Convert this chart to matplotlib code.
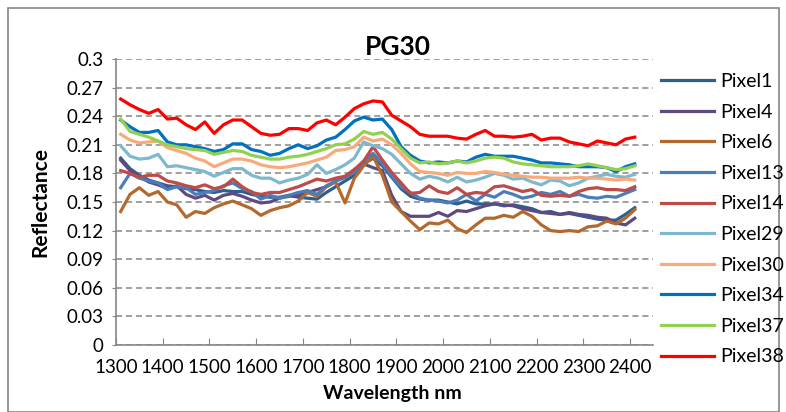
import matplotlib.pyplot as plt
import numpy as np
from matplotlib.patches import Rectangle

plt.rcParams['font.family'] = ['Lato', 'DejaVu Sans']

# wavelength grid (nm), read every 20 nm from the picture
wavelength = list(range(1310, 2411, 20))

pixel1 = [0.196, 0.185, 0.178, 0.173, 0.170, 0.167, 0.166, 0.164, 0.163, 0.161,
          0.160, 0.162, 0.161, 0.161, 0.158, 0.156, 0.155, 0.155, 0.157, 0.155,
          0.154, 0.153, 0.160, 0.166, 0.172, 0.178, 0.190, 0.196, 0.188, 0.176,
          0.164, 0.156, 0.153, 0.152, 0.152, 0.150, 0.148, 0.151, 0.148, 0.148,
          0.148, 0.146, 0.147, 0.145, 0.143, 0.139, 0.140, 0.137, 0.138, 0.136,
          0.134, 0.132, 0.131, 0.131, 0.137, 0.144]
pixel4 = [0.194, 0.183, 0.177, 0.171, 0.168, 0.164, 0.167, 0.158, 0.154, 0.157,
          0.152, 0.157, 0.159, 0.156, 0.152, 0.149, 0.150, 0.154, 0.156, 0.157,
          0.160, 0.163, 0.166, 0.172, 0.176, 0.184, 0.190, 0.186, 0.183, 0.157,
          0.140, 0.135, 0.135, 0.135, 0.139, 0.135, 0.141, 0.140, 0.143, 0.146,
          0.148, 0.147, 0.146, 0.143, 0.141, 0.139, 0.138, 0.137, 0.139, 0.137,
          0.136, 0.134, 0.133, 0.128, 0.126, 0.133]
pixel6 = [0.140, 0.158, 0.165, 0.157, 0.161, 0.150, 0.147, 0.134, 0.140, 0.138,
          0.144, 0.148, 0.151, 0.147, 0.143, 0.136, 0.141, 0.144, 0.146, 0.151,
          0.160, 0.156, 0.166, 0.171, 0.149, 0.175, 0.188, 0.198, 0.178, 0.150,
          0.140, 0.130, 0.121, 0.128, 0.127, 0.131, 0.122, 0.118, 0.126, 0.133,
          0.133, 0.136, 0.134, 0.140, 0.135, 0.126, 0.120, 0.119, 0.120, 0.119,
          0.124, 0.125, 0.130, 0.127, 0.133, 0.142]
pixel13 = [0.165, 0.180, 0.175, 0.172, 0.170, 0.163, 0.166, 0.165, 0.158, 0.160,
           0.162, 0.167, 0.170, 0.164, 0.161, 0.153, 0.157, 0.154, 0.157, 0.160,
           0.162, 0.158, 0.167, 0.172, 0.176, 0.181, 0.193, 0.201, 0.190, 0.177,
           0.166, 0.160, 0.154, 0.152, 0.151, 0.149, 0.152, 0.158, 0.151, 0.158,
           0.155, 0.161, 0.158, 0.154, 0.156, 0.160, 0.158, 0.161, 0.156, 0.158,
           0.155, 0.154, 0.156, 0.155, 0.159, 0.163]
pixel14 = [0.183, 0.180, 0.176, 0.178, 0.178, 0.172, 0.170, 0.167, 0.165, 0.168,
           0.164, 0.166, 0.174, 0.166, 0.160, 0.158, 0.160, 0.160, 0.163, 0.166,
           0.170, 0.174, 0.172, 0.175, 0.177, 0.184, 0.193, 0.208, 0.194, 0.181,
           0.170, 0.159, 0.160, 0.167, 0.161, 0.159, 0.165, 0.158, 0.160, 0.159,
           0.166, 0.167, 0.164, 0.161, 0.163, 0.157, 0.156, 0.157, 0.156, 0.161,
           0.164, 0.165, 0.163, 0.163, 0.162, 0.166]
pixel29 = [0.209, 0.198, 0.195, 0.196, 0.200, 0.187, 0.188, 0.186, 0.184, 0.182,
           0.177, 0.181, 0.185, 0.185, 0.178, 0.175, 0.175, 0.170, 0.173, 0.175,
           0.179, 0.189, 0.180, 0.184, 0.189, 0.196, 0.213, 0.209, 0.206, 0.200,
           0.190, 0.180, 0.174, 0.177, 0.175, 0.171, 0.176, 0.171, 0.173, 0.176,
           0.180, 0.178, 0.174, 0.175, 0.171, 0.168, 0.173, 0.172, 0.167, 0.170,
           0.175, 0.177, 0.179, 0.177, 0.176, 0.179]
pixel30 = [0.221, 0.215, 0.212, 0.213, 0.214, 0.207, 0.204, 0.201, 0.196, 0.193,
           0.187, 0.191, 0.195, 0.195, 0.193, 0.189, 0.187, 0.186, 0.187, 0.189,
           0.191, 0.194, 0.197, 0.204, 0.205, 0.208, 0.218, 0.214, 0.216, 0.210,
           0.201, 0.190, 0.182, 0.181, 0.180, 0.178, 0.181, 0.180, 0.180, 0.182,
           0.181, 0.179, 0.178, 0.177, 0.176, 0.176, 0.175, 0.175, 0.175, 0.176,
           0.175, 0.175, 0.174, 0.173, 0.174, 0.173]
pixel34 = [0.236, 0.229, 0.223, 0.223, 0.225, 0.213, 0.210, 0.210, 0.208, 0.206,
           0.203, 0.205, 0.211, 0.211, 0.205, 0.203, 0.199, 0.201, 0.206, 0.210,
           0.206, 0.209, 0.215, 0.218, 0.226, 0.235, 0.239, 0.236, 0.237, 0.226,
           0.208, 0.199, 0.193, 0.191, 0.192, 0.191, 0.193, 0.192, 0.197, 0.200,
           0.198, 0.198, 0.198, 0.196, 0.194, 0.191, 0.191, 0.190, 0.189, 0.187,
           0.187, 0.187, 0.186, 0.182, 0.187, 0.190]
pixel37 = [0.237, 0.224, 0.221, 0.218, 0.214, 0.210, 0.208, 0.206, 0.205, 0.204,
           0.200, 0.202, 0.204, 0.203, 0.199, 0.197, 0.195, 0.195, 0.197, 0.198,
           0.200, 0.203, 0.206, 0.210, 0.211, 0.216, 0.224, 0.221, 0.223, 0.216,
           0.206, 0.196, 0.191, 0.192, 0.190, 0.191, 0.193, 0.191, 0.193, 0.196,
           0.197, 0.196, 0.192, 0.190, 0.189, 0.188, 0.187, 0.187, 0.187, 0.188,
           0.190, 0.188, 0.186, 0.184, 0.185, 0.188]
pixel38 = [0.258, 0.252, 0.247, 0.243, 0.247, 0.237, 0.238, 0.231, 0.226, 0.234,
           0.222, 0.231, 0.236, 0.236, 0.229, 0.222, 0.220, 0.221, 0.227, 0.227,
           0.225, 0.233, 0.236, 0.231, 0.239, 0.248, 0.253, 0.256, 0.255, 0.241,
           0.235, 0.229, 0.221, 0.219, 0.219, 0.219, 0.217, 0.216, 0.221, 0.225,
           0.219, 0.219, 0.218, 0.219, 0.221, 0.215, 0.217, 0.217, 0.213, 0.211,
           0.209, 0.214, 0.212, 0.210, 0.216, 0.218]

names = ['Pixel1', 'Pixel4', 'Pixel6', 'Pixel13', 'Pixel14',
         'Pixel29', 'Pixel30', 'Pixel34', 'Pixel37', 'Pixel38']
series = [pixel1, pixel4, pixel6, pixel13, pixel14,
          pixel29, pixel30, pixel34, pixel37, pixel38]
colors = ['#2C5F8E', '#5F4A7F', '#B3692E', '#4A7EBB', '#BE4B48',
          '#7EB8CE', '#F9AA7C', '#0070C0', '#92D050', '#FF0000']

fig = plt.figure(figsize=(7.86, 4.12), dpi=100)
ax = fig.add_axes([116/786, 1 - 345/412, (653-116)/786, (345-59)/412])

for name, vals, c in zip(names, series, colors):
    ax.plot(wavelength, vals, color=c, lw=2.3, label=name, solid_joinstyle='round')

ax.set_xlim(1300, 2449)
ax.set_ylim(0, 0.3)
ax.set_xticks(range(1300, 2401, 100))
ax.set_yticks(np.arange(0, 0.301, 0.03))
ax.set_yticklabels(['0', '0.03', '0.06', '0.09', '0.12', '0.15', '0.18',
                    '0.21', '0.24', '0.27', '0.3'])
ax.yaxis.grid(True, color='#868686', ls=(0, (4, 2.5)), lw=1.1)
ax.set_axisbelow(True)
for s in ['top', 'right']:
    ax.spines[s].set_visible(False)
for s in ['left', 'bottom']:
    ax.spines[s].set_color('#868686')
    ax.spines[s].set_linewidth(1.2)
ax.tick_params(axis='x', direction='in', length=5, color='#868686',
               labelsize=13.5, pad=10)
ax.tick_params(axis='y', direction='out', length=3, color='#868686',
               labelsize=13.5, pad=6)

fig.text(398/786, 1 - 47/412, 'PG30', ha='center', va='center',
         fontsize=19, fontweight='bold')
ax.set_xlabel('Wavelength nm', fontsize=14, fontweight='bold')
ax.set_ylabel('Reflectance', fontsize=15, fontweight='bold')
ax.xaxis.set_label_coords((392-116)/537, (345-393)/286)
ax.xaxis.label.set_va('center')
ax.yaxis.set_label_coords((40-116)/537, 0.5)
ax.yaxis.label.set_va('center')

fig.legend(loc='upper left', bbox_to_anchor=(661/786, 1 - 73/412),
           frameon=False, fontsize=14, handlelength=2.75, handletextpad=0.3,
           labelspacing=0.70, borderpad=0, borderaxespad=0)

fig.patches.append(Rectangle((8/786, 0), 771/786, 1 - 8/412, transform=fig.transFigure,
                             fill=False, edgecolor='#868686', lw=1.2))

fig.savefig('out.png', dpi=100)
